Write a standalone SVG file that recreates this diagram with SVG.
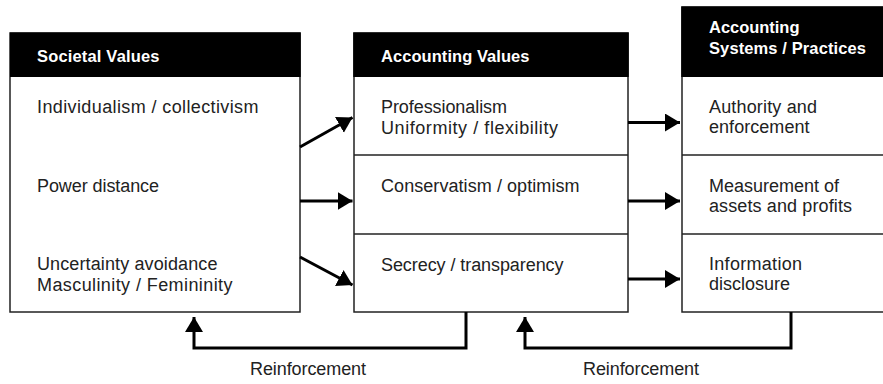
<svg xmlns="http://www.w3.org/2000/svg" width="883" height="384" viewBox="0 0 883 384">
<defs>
<style>
.box{fill:#fff;stroke:#222;stroke-width:1.5}
.hdr{fill:#000}
.div{stroke:#222;stroke-width:1.5}
.ht{font-family:"Liberation Sans",Arial,sans-serif;font-size:16.5px;font-weight:bold;fill:#fff}
.bt{font-family:"Liberation Sans",Arial,sans-serif;font-size:18px;fill:#222}
.con{fill:none;stroke:#000;stroke-width:3}
</style>
<marker id="ah" markerUnits="userSpaceOnUse" markerWidth="16" markerHeight="20" refX="15" refY="9" orient="auto">
<path d="M0,0 L15,9 L0,18 Z" fill="#000"/>
</marker>
</defs>
<rect width="883" height="384" fill="#fff"/>
<g id="societal-values">
<rect class="box" x="10" y="33" width="290" height="279"/>
<rect class="hdr" x="10" y="32.5" width="290.75" height="44.5"/>
<text class="ht" x="37" y="62" textLength="122.5" lengthAdjust="spacing">Societal Values</text>
<text class="bt" x="37" y="113" textLength="221.5" lengthAdjust="spacing">Individualism / collectivism</text>
<text class="bt" x="37" y="192" textLength="122" lengthAdjust="spacing">Power distance</text>
<text class="bt" x="37" y="270" textLength="180.5" lengthAdjust="spacing">Uncertainty avoidance</text>
<text class="bt" x="37" y="291" textLength="195.5" lengthAdjust="spacing">Masculinity / Femininity</text>
</g>
<g id="accounting-values">
<rect class="box" x="354" y="33" width="274" height="279"/>
<rect class="hdr" x="353.25" y="32.5" width="275.5" height="44.5"/>
<line class="div" x1="354" y1="155" x2="628" y2="155"/>
<line class="div" x1="354" y1="234" x2="628" y2="234"/>
<text class="ht" x="381" y="62" textLength="148.5" lengthAdjust="spacing">Accounting Values</text>
<text class="bt" x="381" y="113" textLength="126" lengthAdjust="spacing">Professionalism</text>
<text class="bt" x="381" y="134" textLength="177" lengthAdjust="spacing">Uniformity / flexibility</text>
<text class="bt" x="381" y="192" textLength="198.5" lengthAdjust="spacing">Conservatism / optimism</text>
<text class="bt" x="381" y="271" textLength="182.5" lengthAdjust="spacing">Secrecy / transparency</text>
</g>
<g id="accounting-systems">
<rect class="box" x="682" y="7" width="210" height="305"/>
<rect class="hdr" x="681.25" y="6.5" width="210" height="70.5"/>
<line class="div" x1="682" y1="155" x2="890" y2="155"/>
<line class="div" x1="682" y1="234" x2="890" y2="234"/>
<text class="ht" x="709" y="33" textLength="90.5" lengthAdjust="spacing">Accounting</text>
<text class="ht" x="709" y="54" textLength="157" lengthAdjust="spacing">Systems / Practices</text>
<text class="bt" x="709" y="113" textLength="108" lengthAdjust="spacing">Authority and</text>
<text class="bt" x="709" y="133" textLength="100.5" lengthAdjust="spacing">enforcement</text>
<text class="bt" x="709" y="192" textLength="130" lengthAdjust="spacing">Measurement of</text>
<text class="bt" x="709" y="212" textLength="143" lengthAdjust="spacing">assets and profits</text>
<text class="bt" x="709" y="270" textLength="93" lengthAdjust="spacing">Information</text>
<text class="bt" x="709" y="290" textLength="81" lengthAdjust="spacing">disclosure</text>
</g>
<g id="connectors">
<line class="con" x1="300" y1="147" x2="352.5" y2="117.5" marker-end="url(#ah)"/>
<line class="con" x1="300" y1="201" x2="352.5" y2="201" marker-end="url(#ah)"/>
<line class="con" x1="300" y1="257" x2="352.5" y2="285" marker-end="url(#ah)"/>
<line class="con" x1="628" y1="122.5" x2="680" y2="122.5" marker-end="url(#ah)"/>
<line class="con" x1="628" y1="201" x2="680" y2="201" marker-end="url(#ah)"/>
<line class="con" x1="628" y1="279" x2="680" y2="279" marker-end="url(#ah)"/>
<path class="con" d="M466,312 V348 H194 V317" marker-end="url(#ah)"/>
<path class="con" d="M791,312 V348 H525 V317" marker-end="url(#ah)"/>
<text class="bt" x="250" y="375" textLength="116" lengthAdjust="spacing">Reinforcement</text>
<text class="bt" x="583" y="375" textLength="116" lengthAdjust="spacing">Reinforcement</text>
</g>
</svg>
